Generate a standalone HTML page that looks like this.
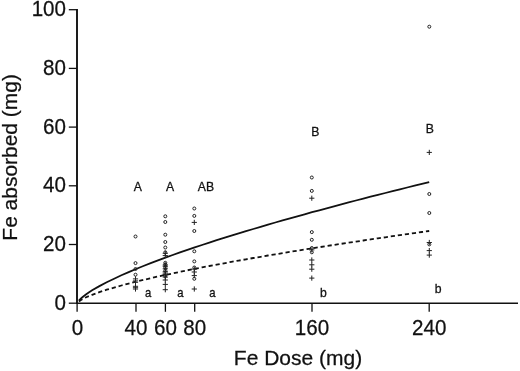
<!DOCTYPE html>
<html><head><meta charset="utf-8"><title>Fe absorbed vs Fe Dose</title>
<style>html,body{margin:0;padding:0;background:#fff}body{width:520px;height:371px;overflow:hidden}svg{display:block;filter:blur(0.3px)}text{font-family:"Liberation Sans",Arial,sans-serif;fill:#111}.t{font-size:20.6px;stroke:#111;stroke-width:.25px}.s{font-size:13px;fill:#111;stroke:#111;stroke-width:.3px}.a{font-size:12px}</style></head><body>
<svg width="520" height="371" viewBox="0 0 520 371">
<rect width="520" height="371" fill="#fff"/>
<g stroke="#111" fill="none" stroke-linecap="butt">
<path stroke-width="1.9" d="M77 9V303.2"/>
<path stroke-width="1.5" d="M76.1 303.2H518"/>
<g stroke-width="1.3">
<path d="M68.8 303.2H77"/>
<path d="M68.8 244.5H77"/>
<path d="M68.8 185.8H77"/>
<path d="M68.8 127.1H77"/>
<path d="M68.8 68.4H77"/>
<path d="M68.8 9.7H77"/>
<path d="M77.1 303.2V311.8"/>
<path d="M136.0 303.2V311.8"/>
<path d="M165.4 303.2V311.8"/>
<path d="M194.7 303.2V311.8"/>
<path d="M312.0 303.2V311.8"/>
<path d="M429.2 303.2V311.8"/>
</g></g>
<path d="M78.9 300.7L80.3 299.1L81.8 297.7L83.3 296.5L86.2 294.2L89.1 292.2L92.1 290.3L99.4 286.1L106.7 282.2L114.1 278.7L121.4 275.3L128.7 272.1L136.0 269.0L143.4 266.0L150.7 263.2L158.0 260.4L165.4 257.7L172.7 255.0L180.0 252.4L187.4 249.9L194.7 247.4L202.0 245.0L209.3 242.6L216.7 240.2L224.0 237.9L231.3 235.6L238.7 233.4L246.0 231.2L253.3 229.0L260.6 226.8L268.0 224.6L275.3 222.5L282.6 220.4L290.0 218.4L297.3 216.3L304.6 214.3L312.0 212.2L319.3 210.3L326.6 208.3L334.0 206.3L341.3 204.4L348.6 202.4L355.9 200.5L363.3 198.6L370.6 196.7L377.9 194.9L385.3 193.0L392.6 191.2L399.9 189.3L407.2 187.5L414.6 185.7L421.9 183.9L429.2 182.1" stroke="#111" stroke-width="1.8" fill="none"/>
<path d="M78.9 301.4L80.3 300.4L81.8 299.5L83.3 298.7L86.2 297.2L89.1 296.0L92.1 294.8L99.4 292.1L106.7 289.7L114.1 287.6L121.4 285.5L128.7 283.6L136.0 281.7L143.4 279.9L150.7 278.2L158.0 276.5L165.4 274.9L172.7 273.4L180.0 271.8L187.4 270.3L194.7 268.9L202.0 267.4L209.3 266.0L216.7 264.6L224.0 263.3L231.3 261.9L238.7 260.6L246.0 259.3L253.3 258.0L260.6 256.8L268.0 255.5L275.3 254.3L282.6 253.1L290.0 251.9L297.3 250.7L304.6 249.5L312.0 248.3L319.3 247.2L326.6 246.0L334.0 244.9L341.3 243.8L348.6 242.7L355.9 241.6L363.3 240.5L370.6 239.4L377.9 238.3L385.3 237.3L392.6 236.2L399.9 235.1L407.2 234.1L414.6 233.1L421.9 232.0L429.2 231.0" stroke="#111" stroke-width="1.8" fill="none" stroke-dasharray="4.2 2.9"/>
<g stroke="#222" stroke-width="1" fill="none">
<circle cx="135.5" cy="236.5" r="1.5"/>
<circle cx="135.5" cy="263.1" r="1.5"/>
<circle cx="135.5" cy="269.0" r="1.5"/>
<circle cx="135.5" cy="274.7" r="1.5"/>
<path d="M132.9 278.9h5.2M135.5 276.3v5.2"/>
<path d="M132.9 280.9h5.2M135.5 278.3v5.2"/>
<path d="M132.9 282.3h5.2M135.5 279.7v5.2"/>
<path d="M132.9 286.3h5.2M135.5 283.7v5.2"/>
<path d="M132.9 287.7h5.2M135.5 285.1v5.2"/>
<path d="M132.9 289.0h5.2M135.5 286.4v5.2"/>
<circle cx="165.3" cy="216.3" r="1.5"/>
<circle cx="165.3" cy="222.0" r="1.5"/>
<circle cx="165.3" cy="234.7" r="1.5"/>
<circle cx="165.3" cy="242.0" r="1.5"/>
<circle cx="165.3" cy="247.5" r="1.5"/>
<circle cx="165.3" cy="252.3" r="1.5"/>
<circle cx="165.3" cy="262.8" r="1.5"/>
<circle cx="165.3" cy="264.6" r="1.5"/>
<circle cx="165.3" cy="267.5" r="1.5"/>
<circle cx="165.3" cy="270.5" r="1.5"/>
<circle cx="165.3" cy="276.0" r="1.5"/>
<path d="M162.7 253.3h5.2M165.3 250.7v5.2"/>
<path d="M162.7 255.6h5.2M165.3 253.0v5.2"/>
<path d="M162.7 265.0h5.2M165.3 262.4v5.2"/>
<path d="M162.7 266.3h5.2M165.3 263.7v5.2"/>
<path d="M162.7 268.8h5.2M165.3 266.2v5.2"/>
<path d="M162.7 271.7h5.2M165.3 269.1v5.2"/>
<path d="M162.7 273.1h5.2M165.3 270.5v5.2"/>
<path d="M162.7 274.7h5.2M165.3 272.1v5.2"/>
<path d="M162.7 277.1h5.2M165.3 274.5v5.2"/>
<path d="M162.7 280.0h5.2M165.3 277.4v5.2"/>
<path d="M162.7 284.4h5.2M165.3 281.8v5.2"/>
<path d="M162.7 289.7h5.2M165.3 287.1v5.2"/>
<circle cx="194.3" cy="208.5" r="1.5"/>
<circle cx="194.3" cy="215.9" r="1.5"/>
<circle cx="194.3" cy="231.0" r="1.5"/>
<circle cx="194.3" cy="251.3" r="1.5"/>
<circle cx="194.3" cy="261.4" r="1.5"/>
<circle cx="194.3" cy="267.5" r="1.5"/>
<circle cx="194.3" cy="278.8" r="1.5"/>
<path d="M191.7 222.4h5.2M194.3 219.8v5.2"/>
<path d="M191.7 269.1h5.2M194.3 266.5v5.2"/>
<path d="M191.7 272.0h5.2M194.3 269.4v5.2"/>
<path d="M191.7 275.6h5.2M194.3 273.0v5.2"/>
<path d="M191.7 289.0h5.2M194.3 286.4v5.2"/>
<circle cx="311.8" cy="177.5" r="1.5"/>
<circle cx="311.8" cy="190.9" r="1.5"/>
<circle cx="311.8" cy="232.1" r="1.5"/>
<circle cx="311.8" cy="239.8" r="1.5"/>
<circle cx="311.8" cy="248.0" r="1.5"/>
<circle cx="311.8" cy="252.3" r="1.5"/>
<path d="M309.2 198.2h5.2M311.8 195.6v5.2"/>
<path d="M309.2 249.9h5.2M311.8 247.3v5.2"/>
<path d="M309.2 260.0h5.2M311.8 257.4v5.2"/>
<path d="M309.2 264.8h5.2M311.8 262.2v5.2"/>
<path d="M309.2 269.2h5.2M311.8 266.6v5.2"/>
<path d="M309.2 278.1h5.2M311.8 275.5v5.2"/>
<circle cx="429.3" cy="26.7" r="1.5"/>
<circle cx="429.3" cy="194.0" r="1.5"/>
<circle cx="429.3" cy="213.0" r="1.5"/>
<circle cx="429.3" cy="244.4" r="1.5"/>
<path d="M426.7 152.4h5.2M429.3 149.8v5.2"/>
<path d="M426.7 242.5h5.2M429.3 239.9v5.2"/>
<path d="M426.7 250.6h5.2M429.3 248.0v5.2"/>
<path d="M426.7 255.1h5.2M429.3 252.5v5.2"/>
</g>
<text class="t" transform="translate(66.0 309.8) scale(1 1.04)" text-anchor="end">0</text>
<text class="t" transform="translate(66.0 251.1) scale(1 1.04)" text-anchor="end">20</text>
<text class="t" transform="translate(66.0 192.4) scale(1 1.04)" text-anchor="end">40</text>
<text class="t" transform="translate(66.0 133.7) scale(1 1.04)" text-anchor="end">60</text>
<text class="t" transform="translate(66.0 75.0) scale(1 1.04)" text-anchor="end">80</text>
<text class="t" transform="translate(66.0 16.3) scale(1 1.04)" text-anchor="end">100</text>
<text class="t" transform="translate(77.4 334.9) scale(1 1.04)" text-anchor="middle">0</text>
<text class="t" transform="translate(136.0 334.9) scale(1 1.04)" text-anchor="middle">40</text>
<text class="t" transform="translate(165.4 334.9) scale(1 1.04)" text-anchor="middle">60</text>
<text class="t" transform="translate(194.7 334.9) scale(1 1.04)" text-anchor="middle">80</text>
<text class="t" transform="translate(312.0 334.9) scale(1 1.04)" text-anchor="middle">160</text>
<text class="t" transform="translate(429.2 334.9) scale(1 1.04)" text-anchor="middle">240</text>
<text class="t" transform="translate(298.0 364.8) scale(1.02 1.0)" text-anchor="middle">Fe Dose (mg)</text>
<text class="t" transform="translate(16.8 157.4) rotate(-90) scale(1.018 1.0)" text-anchor="middle">Fe absorbed (mg)</text>
<text class="s" transform="translate(137.8 191.1) scale(0.94 1.03)" text-anchor="middle">A</text>
<text class="s" transform="translate(170.0 191.1) scale(0.94 1.03)" text-anchor="middle">A</text>
<text class="s" transform="translate(205.9 191.0) scale(0.94 1.03)" text-anchor="middle">AB</text>
<text class="s" transform="translate(315.3 136.4) scale(0.94 1.03)" text-anchor="middle">B</text>
<text class="s" transform="translate(429.8 132.6) scale(0.94 1.03)" text-anchor="middle">B</text>
<text class="s a" transform="translate(148.2 296.5) scale(0.94 1.03)" text-anchor="middle">a</text>
<text class="s a" transform="translate(180.4 296.5) scale(0.94 1.03)" text-anchor="middle">a</text>
<text class="s a" transform="translate(212.5 296.5) scale(0.94 1.03)" text-anchor="middle">a</text>
<text class="s" transform="translate(323.4 296.6) scale(0.94 1.03)" text-anchor="middle">b</text>
<text class="s" transform="translate(438.1 292.7) scale(0.94 1.03)" text-anchor="middle">b</text>
</svg></body></html>
